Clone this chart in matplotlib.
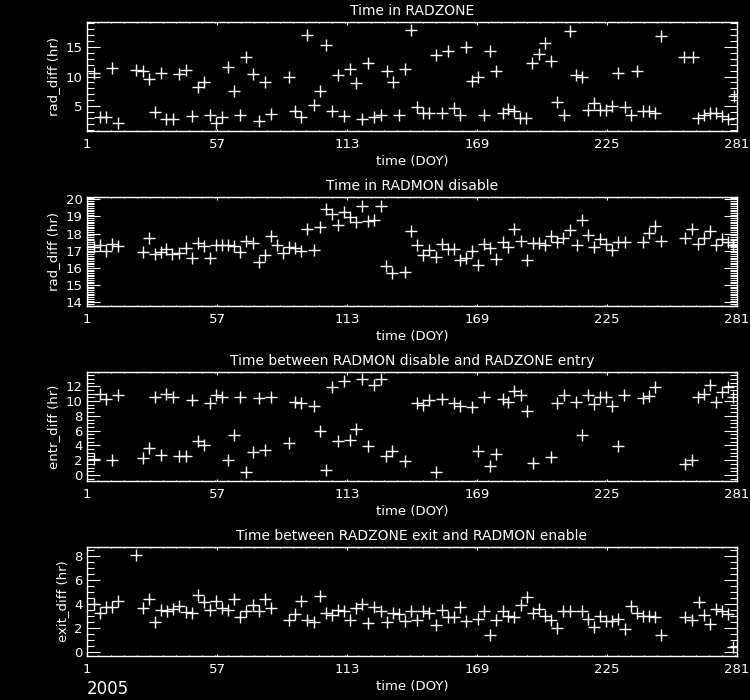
import numpy as np
import matplotlib
matplotlib.use("Agg")
import matplotlib.pyplot as plt
from matplotlib.ticker import MultipleLocator, FixedLocator

# Panel 1: Time in RADZONE
doy_zone = [4.2, 6.4, 9.0, 11.6, 14.5, 22.2, 25.1, 27.7, 30.3, 32.9, 35.2, 38.1, 40.6, 43.5,
            46.1, 48.7, 51.3, 53.8, 56.7, 59.0, 61.6, 64.2, 66.8, 69.6, 72.5, 75.1, 77.7, 80.3,
            88.0, 90.6, 93.2, 95.8, 98.6, 101.2, 103.8, 106.4, 109.0, 111.6, 114.1, 116.7,
            119.3, 121.9, 124.8, 127.6, 130.2, 132.8, 135.4, 138.0, 140.6, 143.2, 145.8, 148.4,
            151.2, 153.8, 156.4, 158.9, 161.5, 164.1, 166.7, 169.3, 171.9, 174.5, 177.1, 180.0,
            182.5, 185.1, 187.7, 190.3, 192.9, 195.5, 198.1, 200.7, 203.5, 206.4, 209.0, 211.5,
            214.1, 216.7, 219.3, 221.9, 224.5, 227.1, 229.7, 232.6, 235.5, 238.1, 240.6, 243.2,
            245.5, 248.4, 258.2, 261.9, 264.2, 266.8, 269.4, 272.0, 274.6, 277.2, 279.8]
rad_zone = [10.64, 3.08, 3.08, 11.44, 2.17, 11.1, 10.87, 9.5, 3.93, 10.54, 2.74, 2.74, 10.42, 11.1,
            3.3, 8.17, 9.07, 3.47, 2.17, 3.08, 11.56, 7.49, 3.42, 13.36, 10.42, 2.4, 9.07, 3.64,
            9.97, 4.1, 3.08, 16.98, 5.22, 7.6, 15.29, 4.2, 10.3, 3.3, 11.32, 8.85,
            2.74, 12.24, 3.19, 3.42, 10.87, 9.07, 3.42, 11.21, 17.88, 4.88, 3.76, 3.76,
            13.59, 3.76, 14.27, 4.66, 3.42, 14.95, 9.29, 9.97, 3.53, 14.27, 10.87, 3.87,
            4.44, 4.1, 2.97, 2.97, 12.34, 13.81, 15.63, 12.57, 5.68, 3.53, 17.66, 10.3,
            9.97, 4.32, 5.46, 4.32, 4.32, 5.0, 10.64, 4.78, 3.42, 10.87, 4.2, 4.2,
            3.76, 16.86, 13.25, 13.25, 2.97, 3.53, 3.76, 3.76, 3.3, 2.74, 6.69]

# Panel 2: Time in RADMON disable
doy_dis = [4.2, 6.4, 9.0, 11.6, 14.5, 25.1, 27.7, 30.3, 32.9, 35.2, 37.8, 40.6, 43.5, 46.1,
           48.7, 51.3, 53.8, 56.7, 59.0, 61.6, 64.2, 66.8, 69.6, 72.5, 75.1, 77.7, 80.3, 82.9,
           85.5, 88.0, 90.6, 93.2, 95.8, 98.6, 101.2, 103.8, 106.4, 109.0, 111.6, 114.1, 116.7,
           119.3, 121.9, 124.8, 127.6, 130.0, 132.6, 137.8, 140.4, 143.2, 145.8, 148.4, 151.2,
           153.8, 156.4, 158.9, 161.5, 164.1, 166.7, 169.3, 171.9, 174.5, 177.1, 180.0, 182.5,
           185.1, 188.0, 190.6, 193.2, 195.8, 198.1, 201.0, 203.5, 206.1, 209.0, 211.9, 214.1,
           216.7, 219.3, 221.9, 224.5, 227.1, 229.7, 232.6, 240.6, 243.2, 245.8, 248.4, 258.4,
           261.5, 264.2, 266.8, 269.4, 272.0, 274.6, 277.2, 279.4]
rad_dis = [17.23, 17.31, 17.0, 17.42, 17.27, 16.92, 17.74, 16.81, 16.92, 17.08, 16.81, 16.88, 17.16, 16.58,
           17.47, 17.27, 16.58, 17.31, 17.31, 17.31, 17.27, 16.92, 17.54, 17.47, 16.34, 16.73, 17.85, 17.35,
           16.84, 17.23, 17.16, 17.0, 18.24, 17.04, 18.4, 19.44, 19.13, 18.51, 19.25, 18.94, 18.67,
           19.63, 18.74, 18.78, 19.63, 16.11, 15.68, 15.76, 18.16, 17.35, 16.73, 17.04, 16.61,
           17.42, 17.08, 17.08, 16.46, 16.58, 16.96, 16.15, 17.42, 17.16, 16.53, 17.5, 17.23,
           18.28, 17.54, 16.46, 17.47, 17.47, 17.35, 17.85, 17.5, 17.77, 18.2, 17.35, 18.78,
           17.89, 17.19, 17.66, 17.42, 17.04, 17.5, 17.5, 17.5, 18.05, 18.44, 17.58, 17.77,
           18.28, 17.39, 17.74, 18.16, 17.31, 17.7, 17.5, 17.35]

# Panel 3: Time between RADMON disable and RADZONE entry
doy_entr = [4.2, 6.4, 9.0, 11.6, 14.5, 25.1, 27.7, 30.3, 32.9, 35.2, 38.1, 40.6, 43.5, 46.1,
            48.7, 51.3, 53.8, 56.7, 59.0, 61.6, 64.2, 66.8, 69.6, 72.5, 75.1, 77.7, 80.3,
            88.0, 90.6, 93.2, 98.6, 101.2, 103.8, 106.4, 109.0, 111.6, 114.1, 116.7, 119.3,
            121.9, 124.8, 127.6, 130.0, 132.6, 137.8, 143.2, 145.8, 148.4, 151.2, 153.8, 158.9,
            161.5, 166.7, 169.3, 171.9, 174.5, 177.1, 180.0, 182.5, 185.1, 188.0, 190.6, 193.2,
            201.0, 203.5, 206.4, 211.5, 214.1, 216.7, 219.3, 221.9, 224.5, 227.1, 229.7, 232.3,
            240.6, 243.2, 245.5, 258.4, 261.5, 264.2, 266.8, 269.4, 272.0, 274.6, 277.2, 279.4]
entr_diff = [2.17, 10.96, 10.33, 2.0, 10.87, 2.27, 3.63, 10.5, 2.72, 10.96, 10.5, 2.54, 2.54, 10.15,
             4.53, 4.08, 9.69, 10.78, 10.5, 2.0, 5.34, 10.5, 0.36, 3.08, 10.42, 3.35, 10.5,
             4.26, 9.87, 9.78, 9.33, 5.98, 0.63, 11.96, 4.53, 12.77, 4.71, 6.25, 12.95,
             3.9, 12.13, 12.95, 2.54, 3.26, 1.9, 9.78, 9.51, 10.15, 0.45, 10.33, 9.69,
             9.33, 9.24, 3.26, 10.5, 1.18, 2.9, 10.24, 9.87, 11.32, 10.78, 8.7, 1.63,
             2.45, 9.69, 10.78, 9.87, 5.43, 10.87, 9.6, 10.5, 10.6, 9.33, 3.9, 10.87,
             10.42, 10.69, 11.87, 1.45, 2.08, 10.5, 10.96, 12.13, 9.87, 11.23, 11.87, 10.5]

# Panel 4: Time between RADZONE exit and RADMON enable
doy_exit = [4.2, 6.4, 9.0, 11.6, 14.5, 22.2, 25.1, 27.7, 30.3, 32.9, 35.5, 38.1, 40.6, 43.5,
            46.1, 48.7, 51.3, 53.8, 56.7, 59.0, 61.6, 64.2, 66.8, 69.6, 72.5, 75.1, 77.7, 80.3,
            88.0, 90.6, 93.2, 95.8, 98.6, 101.2, 103.8, 106.4, 109.0, 111.6, 114.1, 116.7,
            119.3, 121.9, 124.8, 127.6, 130.2, 132.8, 135.4, 138.0, 140.6, 143.2, 145.8, 148.4,
            151.2, 153.8, 156.4, 158.9, 161.5, 164.1, 169.3, 171.9, 174.5, 177.1, 180.0, 182.5,
            185.1, 188.0, 190.6, 193.2, 195.8, 198.1, 201.0, 203.5, 206.1, 209.0, 214.1, 216.7,
            219.3, 221.9, 224.5, 227.1, 229.7, 232.6, 235.5, 238.1, 240.6, 243.2, 245.8, 248.4,
            258.4, 261.5, 264.5, 266.8, 269.4, 272.0, 274.6, 277.2, 279.4]
exit_diff = [4.01, 3.24, 3.74, 3.74, 4.24, 8.06, 3.68, 4.4, 2.52, 3.51, 3.4, 3.57, 3.85, 3.35,
             3.24, 4.73, 4.18, 3.51, 4.29, 3.68, 3.51, 4.45, 2.96, 3.46, 3.9, 3.46, 4.45, 3.68,
             2.68, 3.18, 4.29, 2.68, 2.52, 4.68, 3.29, 3.07, 3.51, 3.4, 2.68, 3.68,
             4.01, 2.41, 3.74, 3.46, 2.52, 3.29, 3.18, 2.62, 3.46, 2.68, 3.46, 3.24,
             2.29, 3.51, 2.96, 2.9, 3.79, 2.57, 2.74, 3.46, 1.46, 2.68, 3.46, 3.01,
             2.9, 3.9, 4.57, 3.24, 3.57, 3.01, 2.68, 2.02, 3.46, 3.4, 3.46, 2.79,
             2.08, 3.01, 2.62, 2.62, 2.74, 1.91, 3.85, 3.24, 3.01, 3.01, 2.9, 1.41,
             2.9, 2.68, 4.18, 3.12, 2.35, 3.57, 3.4, 3.18, 0.47]

x_ticks = [1, 57, 113, 169, 225, 281]

panels = [
    ("Time in RADZONE", "rad_diff (hr)", doy_zone, rad_zone, (0.76, 19.3), 5, 1),
    ("Time in RADMON disable", "rad_diff (hr)", doy_dis, rad_dis, (13.78, 20.15), 1, 0.1),
    ("Time between RADMON disable and RADZONE entry", "entr_diff (hr)", doy_entr, entr_diff, (-0.82, 13.97), 2, 0.5),
    ("Time between RADZONE exit and RADMON enable", "exit_diff (hr)", doy_exit, exit_diff, (-0.31, 8.77), 2, 0.5),
]

plt.rcParams["font.family"] = "DejaVu Sans"
fig = plt.figure(figsize=(7.5, 7.0), dpi=100, facecolor="black")

left = 87 / 750
width = 650 / 750
tops = [21.7, 196.7, 371.7, 546.7]
height = 109.3 / 700

for (title, ylabel, xs, ys, ylim, ymaj, ymin_), top in zip(panels, tops):
    ax = fig.add_axes([left, 1 - (top + 109.3) / 700, width, height], facecolor="black")
    ax.plot(xs, ys, linestyle="none", marker="+", markersize=8, markeredgewidth=1, color="white")
    ax.set_xlim(1, 281)
    ax.set_ylim(*ylim)
    ax.xaxis.set_major_locator(FixedLocator(x_ticks))
    ax.xaxis.set_minor_locator(MultipleLocator(5.6))
    ax.yaxis.set_major_locator(MultipleLocator(ymaj))
    ax.yaxis.set_minor_locator(MultipleLocator(ymin_))
    for s in ax.spines.values():
        s.set_color("white")
        s.set_linewidth(1)
    ax.tick_params(axis="both", which="both", direction="in", colors="white",
                   top=True, right=True, labelsize=9.5, width=0.8)
    ax.tick_params(axis="x", which="major", length=1.8, pad=5)
    ax.tick_params(axis="x", which="minor", length=1.0)
    ax.tick_params(axis="y", which="major", length=9.4, pad=3)
    ax.tick_params(axis="y", which="minor", length=4.7)
    ax.set_title(title, color="white", fontsize=10, pad=5)
    ax.set_xlabel("time (DOY)", color="white", fontsize=9.5, labelpad=3)
    ax.set_ylabel(ylabel, color="white", fontsize=9.5, labelpad=4)

fig.text(87 / 750, 1.5 / 700, "2005", color="white", fontsize=12, va="bottom", ha="left")

fig.savefig("out.png", dpi=100, facecolor="black")
